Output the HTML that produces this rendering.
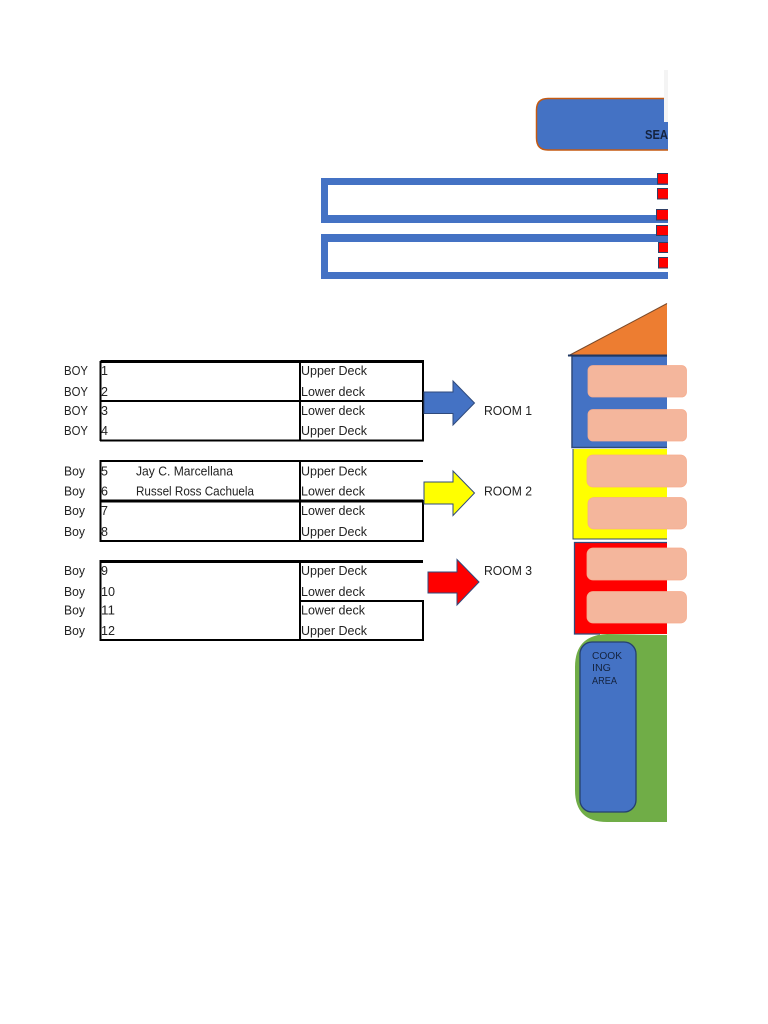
<!DOCTYPE html>
<html><head><meta charset="utf-8"><style>
html,body{margin:0;padding:0;background:#fff;width:768px;height:1024px;overflow:hidden}
svg{display:block;filter:blur(.35px)}
text{font-family:"Liberation Sans",sans-serif;font-size:12.5px;fill:#222}
.c{font-size:10.5px;fill:#14233f}
</style></head><body>
<svg width="768" height="1024" viewBox="0 0 768 1024" xmlns="http://www.w3.org/2000/svg">
<!-- top banner -->
<path d="M668 98.500H548Q536.500 98.500 536.500 110V138Q536.500 150 548 150H668Z" fill="#4472c4"/>
<path d="M664 98.500H548Q536.500 98.500 536.500 110V138Q536.500 150 548 150H668" fill="none" stroke="#c55a11" stroke-width="1.500"/>
<rect x="664" y="70" width="4" height="52" fill="#f4f4f4"/>
<text x="645" y="139" textLength="23" lengthAdjust="spacingAndGlyphs" style="font-weight:700;fill:#14233f">SEA</text>
<!-- long outlined boxes -->
<path d="M321 178H668V185H328V215H668V223H321Z" fill="#4472c4"/>
<path d="M321 234H668V242H328V272H668V279H321Z" fill="#4472c4"/>
<!-- red squares -->
<g fill="#ff0000" stroke="#2f3f66" stroke-width="1">
<path d="M668 173.500H657.500V184H668"/>
<path d="M668 188.500H657.500V199H668"/>
<path d="M668 209.500H656.500V220H668"/>
<path d="M668 225.500H656.500V235.500H668"/>
<path d="M668 242.500H658.500V252.500H668"/>
<path d="M668 257.500H658.500V268H668"/>
</g>
<!-- house -->
<polygon points="568,356 667,303.500 667,356" fill="#ed7d31"/>
<path d="M568 356L667 303.500" stroke="#7a4a2a" stroke-width="1" fill="none"/>
<rect x="572" y="356" width="95" height="92" fill="#4472c4"/>
<path d="M667 356H572V447.500H667" fill="none" stroke="#2f4a7c" stroke-width="1.500"/>
<path d="M568 355.500H667" stroke="#1f3864" stroke-width="2"/>
<rect x="573" y="449" width="94" height="90" fill="#ffff00"/>
<path d="M667 539H573V449" fill="none" stroke="#2f4a7c" stroke-width="1"/>
<rect x="575" y="543" width="92" height="91" fill="#ff0000"/>
<path d="M667 542.500H574.500V634H600" fill="none" stroke="#2f4a7c" stroke-width="1.300"/>
<!-- peach beds -->
<g fill="#f4b69c" stroke="#f6ad8f" stroke-width=".8">
<rect x="588" y="365.500" width="98.500" height="31.500" rx="5"/>
<rect x="588" y="409.500" width="98.500" height="31.500" rx="5"/>
<rect x="587" y="455" width="99.500" height="32" rx="6"/>
<rect x="588" y="497.500" width="98.500" height="31.500" rx="6"/>
<rect x="587" y="548" width="99.500" height="32" rx="6"/>
<rect x="587" y="591.500" width="99.500" height="31.500" rx="6"/>
</g>
<!-- green area -->
<path d="M667 635V822H607Q575 822 575 790V667Q575 635 607 634Z" fill="#70ad47"/>
<rect x="580" y="642" width="56" height="170" rx="12" fill="#4472c4" stroke="#25406f" stroke-width="1.300"/>
<text class="c" x="592" y="659" textLength="30" lengthAdjust="spacingAndGlyphs">COOK</text>
<text class="c" x="592" y="671" textLength="19" lengthAdjust="spacingAndGlyphs">ING</text>
<text class="c" x="592" y="684" textLength="25" lengthAdjust="spacingAndGlyphs">AREA</text>
<!-- tables -->
<g fill="none" stroke="#000">
<path d="M100.500 361.500H423" stroke-width="3"/>
<path d="M100.500 361V441M300 361V441M423 360V441" stroke-width="2"/>
<path d="M100 401H423M100 440.500H424" stroke-width="2"/>
<path d="M100 461H423" stroke-width="2"/>
<path d="M100 501H423" stroke-width="3"/>
<path d="M100 541H424" stroke-width="2"/>
<path d="M100.500 460V542M300 461V542M423 500V542" stroke-width="2"/>
<path d="M100 561.500H423" stroke-width="3"/>
<path d="M100.500 560V641M300 561V641M423 600V641" stroke-width="2"/>
<path d="M300 601H424M100 640H424" stroke-width="2"/>
</g>
<!-- arrows -->
<polygon points="424,392 453,392 453,381 474.500,403 453,425 453,413.500 424,413.500" fill="#4472c4" stroke="#2f4a7c" stroke-width="1"/>
<polygon points="424,482 453,482 453,471 474.500,493 453,515.500 453,504 424,504" fill="#ffff00" stroke="#2f4a7c" stroke-width="1"/>
<polygon points="428,572 457,572 457,559.500 479,582 457,605 457,593 428,593" fill="#ff0000" stroke="#2f4a7c" stroke-width="1"/>
<!-- left labels -->
<g>
<text x="64" y="375" textLength="24" lengthAdjust="spacingAndGlyphs">BOY</text>
<text x="64" y="396" textLength="24" lengthAdjust="spacingAndGlyphs">BOY</text>
<text x="64" y="415" textLength="24" lengthAdjust="spacingAndGlyphs">BOY</text>
<text x="64" y="435" textLength="24" lengthAdjust="spacingAndGlyphs">BOY</text>
<text x="64" y="475.500" textLength="21" lengthAdjust="spacingAndGlyphs">Boy</text>
<text x="64" y="495.500" textLength="21" lengthAdjust="spacingAndGlyphs">Boy</text>
<text x="64" y="515" textLength="21" lengthAdjust="spacingAndGlyphs">Boy</text>
<text x="64" y="536" textLength="21" lengthAdjust="spacingAndGlyphs">Boy</text>
<text x="64" y="575" textLength="21" lengthAdjust="spacingAndGlyphs">Boy</text>
<text x="64" y="596" textLength="21" lengthAdjust="spacingAndGlyphs">Boy</text>
<text x="64" y="614.500" textLength="21" lengthAdjust="spacingAndGlyphs">Boy</text>
<text x="64" y="635" textLength="21" lengthAdjust="spacingAndGlyphs">Boy</text>
</g>
<!-- numbers -->
<g>
<text x="101" y="375">1</text><text x="101" y="396">2</text><text x="101" y="415">3</text><text x="101" y="435">4</text>
<text x="101" y="475.500">5</text><text x="101" y="495.500">6</text><text x="101" y="515">7</text><text x="101" y="536">8</text>
<text x="101" y="575">9</text>
<text x="101" y="596" textLength="14" lengthAdjust="spacingAndGlyphs">10</text>
<text x="101" y="614.500" textLength="14" lengthAdjust="spacingAndGlyphs">11</text>
<text x="101" y="635" textLength="14" lengthAdjust="spacingAndGlyphs">12</text>
</g>
<text x="136" y="475.500" textLength="97" lengthAdjust="spacingAndGlyphs">Jay C. Marcellana</text>
<text x="136" y="495.500" textLength="118" lengthAdjust="spacingAndGlyphs">Russel Ross Cachuela</text>
<!-- deck labels -->
<g>
<text x="301" y="375" textLength="66" lengthAdjust="spacingAndGlyphs">Upper Deck</text>
<text x="301" y="396" textLength="64" lengthAdjust="spacingAndGlyphs">Lower deck</text>
<text x="301" y="415" textLength="64" lengthAdjust="spacingAndGlyphs">Lower deck</text>
<text x="301" y="435" textLength="66" lengthAdjust="spacingAndGlyphs">Upper Deck</text>
<text x="301" y="475.500" textLength="66" lengthAdjust="spacingAndGlyphs">Upper Deck</text>
<text x="301" y="495.500" textLength="64" lengthAdjust="spacingAndGlyphs">Lower deck</text>
<text x="301" y="515" textLength="64" lengthAdjust="spacingAndGlyphs">Lower deck</text>
<text x="301" y="536" textLength="66" lengthAdjust="spacingAndGlyphs">Upper Deck</text>
<text x="301" y="575" textLength="66" lengthAdjust="spacingAndGlyphs">Upper Deck</text>
<text x="301" y="596" textLength="64" lengthAdjust="spacingAndGlyphs">Lower deck</text>
<text x="301" y="614.500" textLength="64" lengthAdjust="spacingAndGlyphs">Lower deck</text>
<text x="301" y="635" textLength="66" lengthAdjust="spacingAndGlyphs">Upper Deck</text>
</g>
<text x="484" y="415" textLength="48" lengthAdjust="spacingAndGlyphs">ROOM 1</text>
<text x="484" y="495.500" textLength="48" lengthAdjust="spacingAndGlyphs">ROOM 2</text>
<text x="484" y="575" textLength="48" lengthAdjust="spacingAndGlyphs">ROOM 3</text>
</svg>
</body></html>
